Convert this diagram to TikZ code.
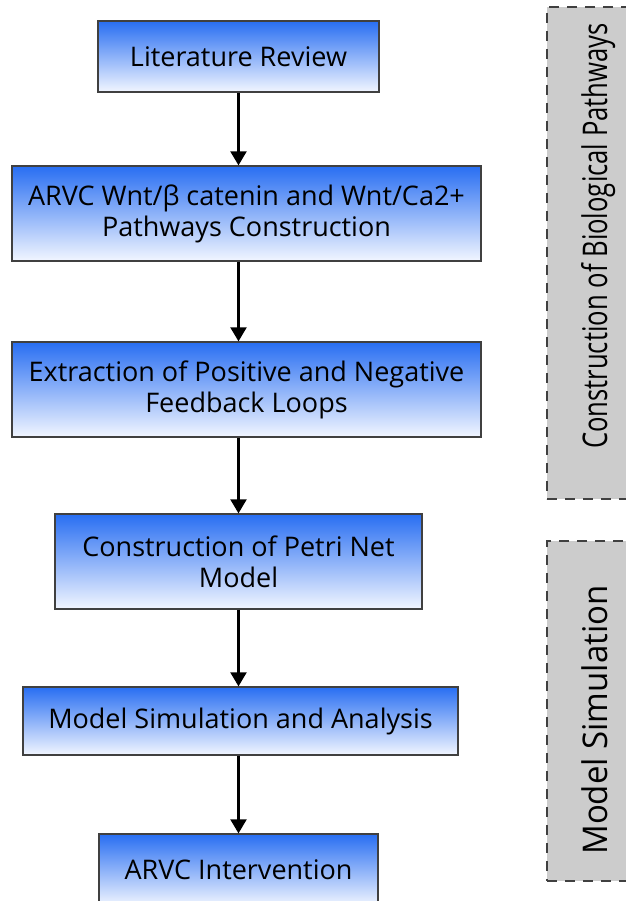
\documentclass[tikz,border=0pt]{standalone}
\usepackage{fontspec}
\setmainfont{Open Sans}
\newfontfamily\phasefontlong{Open Sans}[FakeStretch=0.754]
\newfontfamily\phasefontshort{Open Sans}[FakeStretch=0.97]
\usetikzlibrary{arrows.meta}
\definecolor{boxtop}{RGB}{40,110,242}
\definecolor{boxbot}{RGB}{242,246,255}
\definecolor{panelgray}{RGB}{204,204,204}
\definecolor{edgegray}{RGB}{64,64,64}
\begin{document}
\begin{tikzpicture}[x=1pt,y=-1pt,
  stagebox/.style={draw=edgegray, line width=1.3pt, top color=boxtop, bottom color=boxbot,
    align=center, inner sep=0pt, font=\fontsize{27}{31}\selectfont},
  flow/.style={-{Triangle[length=14pt,width=16pt]}, line width=2.2pt},
  phase/.style={fill=panelgray, draw=edgegray, line width=1.3pt, dash pattern=on 10pt off 8pt},
  phaselabel/.style={rotate=90, anchor=base, inner sep=0pt}]
\useasboundingbox (0,0) rectangle (625,901);

% phase panels on the right
\node[phase, minimum width=93pt, minimum height=492pt] (p1) at (593.5,253) {};
\node[phase, minimum width=93pt, minimum height=340pt] (p2) at (593.5,711) {};
\node[phaselabel, font=\phasefontlong\fontsize{34}{38}\selectfont] (l1) at (607,236)
  {Construction of Biological Pathways};
\node[phaselabel, font=\phasefontshort\fontsize{34}{38}\selectfont] (l2) at (607,720)
  {Model Simulation};

% workflow stages
\node[stagebox, minimum width=281pt, minimum height=71pt] (s1) at (238.5,56.5) {Literature Review};
\node[stagebox, minimum width=469pt, minimum height=95pt] (s2) at (246.5,213.5)
  {ARVC Wnt/β catenin and Wnt/Ca2+\\Pathways Construction};
\node[stagebox, minimum width=469pt, minimum height=95pt] (s3) at (246.5,389.5)
  {Extraction of Positive and Negative\\Feedback Loops};
\node[stagebox, minimum width=367pt, minimum height=95pt] (s4) at (238.5,561.5)
  {Construction of Petri Net\\Model};
\node[stagebox, minimum width=435pt, minimum height=68pt] (s5) at (240.5,721) {Model Simulation and Analysis};
\node[stagebox, minimum width=279pt, minimum height=72pt] (s6) at (238.5,870) {ARVC Intervention};

% connectors
\coordinate (ax) at (238.5,0);
\draw[flow] (s1.south -| ax) -- (s2.north -| ax);
\draw[flow] (s2.south -| ax) -- (s3.north -| ax);
\draw[flow] (s3.south -| ax) -- (s4.north -| ax);
\draw[flow] (s4.south -| ax) -- (s5.north -| ax);
\draw[flow] (s5.south -| ax) -- (s6.north -| ax);
\end{tikzpicture}
\end{document}
